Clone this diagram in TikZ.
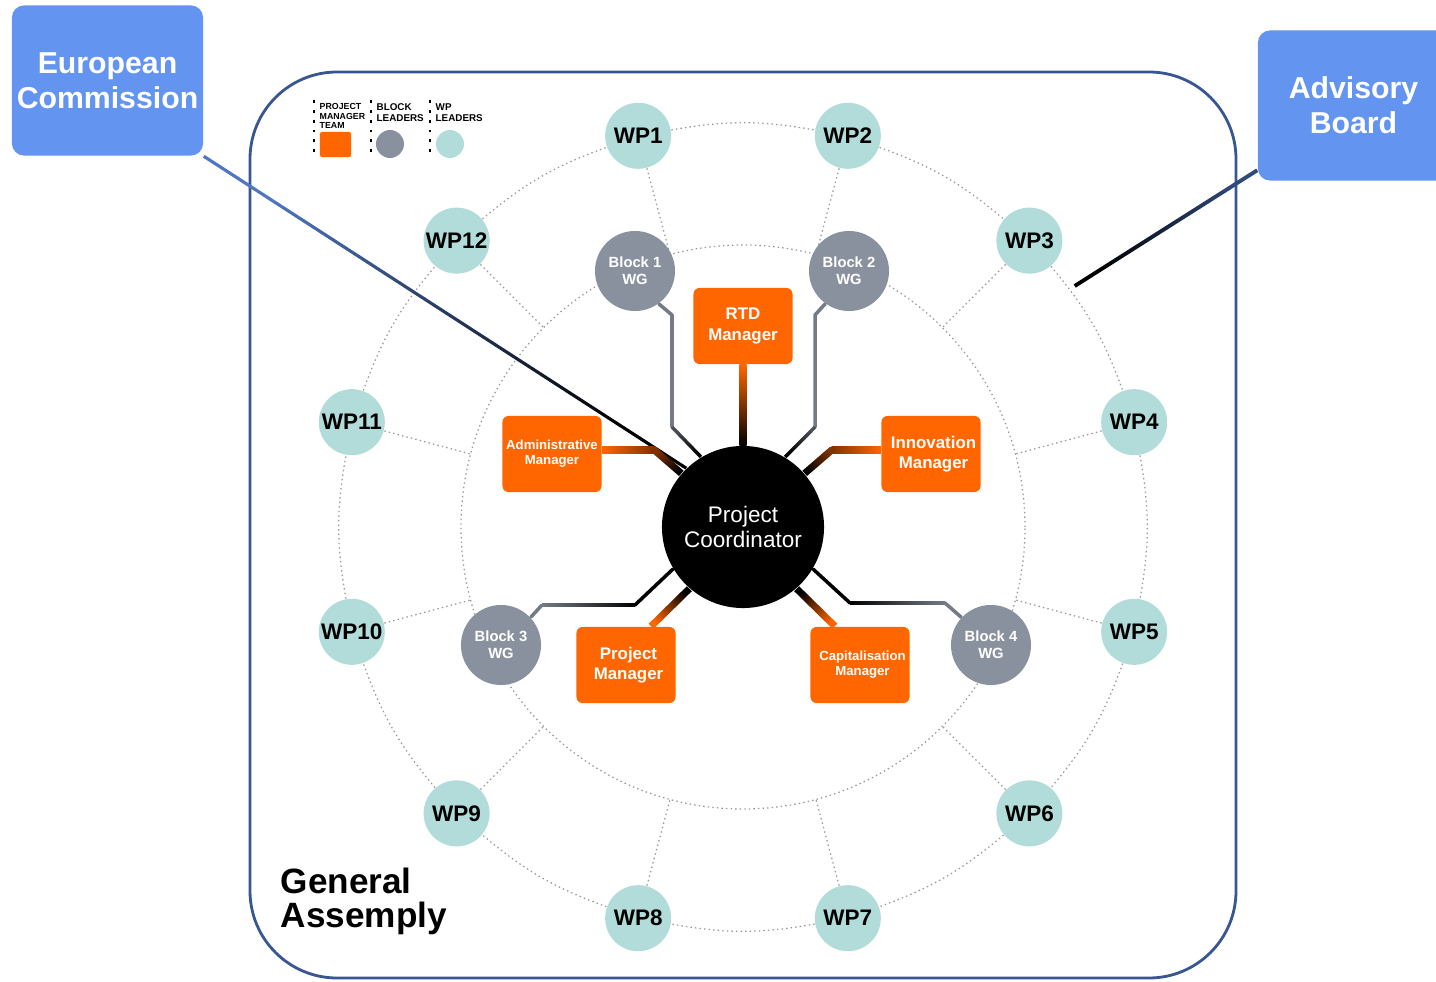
\documentclass[tikz,border=0pt]{standalone}
\usepackage{fontspec}
\setmainfont{Liberation Sans}
\usetikzlibrary{calc,backgrounds}
\definecolor{ecblue}{RGB}{99,148,240}
\definecolor{pmorange}{RGB}{255,102,0}
\definecolor{blgray}{RGB}{138,145,158}
\definecolor{wpteal}{RGB}{178,220,217}
\definecolor{ganavy}{RGB}{56,86,145}
\definecolor{ringgray}{RGB}{150,150,150}
\colorlet{pmmid}{pmorange!50!black}
\colorlet{blline}{blgray!85!black}
\colorlet{blmid}{blgray!55!black}
\colorlet{ecdark}{ecblue!80!black}
\colorlet{abdark}{ganavy!85!black}

% straight line of half width #1 that fades from colour #4 to colour #5
\newcommand{\fadeline}[5]{%
  \path (#2) coordinate (fa) (#3) coordinate (fb);
  \pgfmathanglebetweenpoints{\pgfpointanchor{fa}{center}}{\pgfpointanchor{fb}{center}}
  \pgfmathsetmacro{\fang}{\pgfmathresult-90}
  \shade[bottom color=#4, top color=#5, shading angle=\fang]
    ($(fa)!#1!90:(fb)$) -- ($(fb)!#1!-90:(fa)$) -- ($(fb)!#1!90:(fa)$)
    -- ($(fa)!#1!-90:(fb)$) -- cycle;
}

\tikzset{
  wp/.style={circle, fill=wpteal, minimum size=0.66cm, inner sep=0pt,
    font=\fontsize{6.4}{7}\selectfont\bfseries},
  block/.style={circle, fill=blgray, text=white, minimum size=0.8cm, inner sep=0pt,
    align=center, font=\fontsize{4.2}{4.8}\selectfont\bfseries},
  pmbox/.style={rectangle, rounded corners=0.06cm, fill=pmorange, text=white,
    minimum width=0.99cm, minimum height=0.76cm, inner sep=0pt, align=center,
    font=\fontsize{4.8}{5.7}\selectfont\bfseries},
  pmsmall/.style={font=\fontsize{3.75}{4.3}\selectfont\bfseries},
  outbox/.style={rectangle, rounded corners=0.12cm, fill=ecblue, text=white,
    minimum width=1.91cm, minimum height=1.5cm, inner sep=0pt, align=center,
    font=\fontsize{8.6}{9.9}\selectfont\bfseries},
  legtext/.style={anchor=north west, align=left, inner sep=0pt},
  ringline/.style={ringgray, line width=0.35pt, dash pattern=on 0.4pt off 0.9pt},
  graylink/.style={blline, line width=1pt, line cap=round, line join=round},
}

\begin{document}
\begin{tikzpicture}[x=0.01cm, y=0.01cm]
\useasboundingbox (0,0) rectangle (1436,981);

% coordinator and managers
\node[circle, fill=black, text=white, minimum size=1.62cm, inner sep=0pt, align=center,
  font=\fontsize{6.4}{7.1}\selectfont] (pc) at (743,454) {Project\\Coordinator};
\node[pmbox] (rtd) at (743,655) {RTD\\Manager};
\node[pmbox, pmsmall] (adm) at (552,527) {Administrative\\Manager};
\node[pmbox] (inn) at (931,527) {\hspace*{0.05cm}Innovation\\\hspace*{0.05cm}Manager};
\node[pmbox] (pm) at (626,316) {\hspace*{0.05cm}Project\\\hspace*{0.05cm}Manager};
\node[pmbox, pmsmall] (cap) at (860,316) {\hspace*{0.05cm}Capitalisation\\\hspace*{0.05cm}Manager};

% block working groups
\node[block] (b1) at (635,710) {Block 1\\WG};
\node[block] (b2) at (849,710) {Block 2\\WG};
\node[block] (b3) at (501,336) {Block 3\\WG};
\node[block] (b4) at (991,336) {Block 4\\WG};

% work packages
\foreach \n/\a in {1/105,2/75,3/45,4/15,5/-15,6/-45,7/-75,8/-105,9/-135,10/-165,11/165,12/135}{
  \node[wp] (wp\n) at ($(pc)+(\a:405)$) {WP\n};
  \coordinate (r\n) at ($(pc)+(\a:282)$);
}

% outside bodies
\node[outbox] (ec) at (107.5,900.5) {European\\Commission};
\node[outbox] (ab) at (1353.5,875.5) {Advisory\\Board};
\node[legtext, font=\fontsize{10}{9.7}\selectfont\bfseries] (ga) at (280,114) {General\\Assemply};

% legend
\draw[black, dotted, line width=0.8pt] (314,881) -- (314,824);
\draw[black, dotted, line width=0.8pt] (371,881) -- (371,824);
\draw[black, dotted, line width=0.8pt] (430,881) -- (430,824);
\node[legtext, font=\fontsize{2.5}{2.7}\selectfont\bfseries] (lt1) at (319,878) {PROJECT\\MANAGER\\TEAM};
\node[legtext, font=\fontsize{2.8}{3.1}\selectfont\bfseries] (lt2) at (376,878) {BLOCK\\LEADERS};
\node[legtext, font=\fontsize{2.8}{3.1}\selectfont\bfseries] (lt3) at (435,878) {WP\\LEADERS};
\node[rectangle, rounded corners=0.02cm, fill=pmorange, minimum width=0.31cm,
  minimum height=0.25cm, inner sep=0pt] (lg1) at (335.5,836.5) {};
\node[circle, fill=blgray, minimum size=0.28cm, inner sep=0pt] (lg2) at (390,837) {};
\node[circle, fill=wpteal, minimum size=0.28cm, inner sep=0pt] (lg3) at (450,837) {};

\begin{scope}[on background layer]
  % general assembly frame
  \draw[ganavy, line width=0.8pt, rounded corners=0.87cm] (250,3) rectangle (1236,909);
  % rings
  \draw[ringline] (pc) circle[radius=282];
  \foreach \n [remember=\n as \lastn (initially 12)] in {1,...,12}{
    \draw[ringline] (wp\lastn) to[bend left=10] (wp\n);
    \draw[ringline] (wp\n) -- (r\n);
  }
  % links of the outside bodies
  \coordinate (abstart) at ($(ab.south west)+(0,11)$);
  \coordinate (abend) at ($(pc)+(36:410)$);
  \fadeline{0.45pt}{ec.south east}{pc.134}{ecdark}{black}
  \fadeline{0.55pt}{abstart}{abend}{abdark}{black}
  % managers
  \fadeline{1pt}{rtd.south}{pc.north}{pmorange}{black}
  \coordinate (adstart) at ($(adm.east)+(0,4)$);
  \coordinate (adbend) at ($(adm.east)+(52,4)$);
  \fadeline{1pt}{adstart}{adbend}{pmorange}{pmmid}
  \fadeline{1pt}{adbend}{pc.139}{pmmid}{black}
  \fill[pmmid] (adbend) circle[radius=1pt];
  \coordinate (instart) at ($(inn.west)+(0,4)$);
  \coordinate (inbend) at ($(inn.west)+(-49,4)$);
  \fadeline{1pt}{instart}{inbend}{pmorange}{pmmid}
  \fadeline{1pt}{inbend}{pc.41}{pmmid}{black}
  \fill[pmmid] (inbend) circle[radius=1pt];
  \coordinate (pmstart) at ($(pm.north)!0.5!(pm.north east)$);
  \fadeline{1pt}{pmstart}{pc.-131}{pmorange}{black}
  \coordinate (capstart) at ($(cap.north)!0.5!(cap.north west)$);
  \fadeline{1pt}{capstart}{pc.-49}{pmorange}{black}
  % blocks
  \coordinate (b1p) at (672,666);
  \coordinate (b1q) at (672,554);
  \draw[graylink] (b1.-54) -- (b1p) -- (b1q);
  \fadeline{0.5pt}{b1q}{pc.121}{blmid}{black}
  \coordinate (b2p) at (815,666);
  \coordinate (b2q) at (815,554);
  \draw[graylink] (b2.-126) -- (b2p) -- (b2q);
  \fadeline{0.5pt}{b2q}{pc.59}{blmid}{black}
  \coordinate (b3p) at (542,376);
  \coordinate (b3q) at (635,376);
  \draw[graylink] (b3.43) -- (b3p);
  \fadeline{0.5pt}{b3p}{b3q}{blline}{black}
  \draw[graylink, black] (b3q) -- (pc.-149);
  \coordinate (b4p) at (945,378);
  \coordinate (b4q) at (850,378);
  \draw[graylink] (b4.137) -- (b4p);
  \fadeline{0.5pt}{b4p}{b4q}{blline}{black}
  \draw[graylink, black] (b4q) -- (pc.-31);
\end{scope}
\end{tikzpicture}
\end{document}
